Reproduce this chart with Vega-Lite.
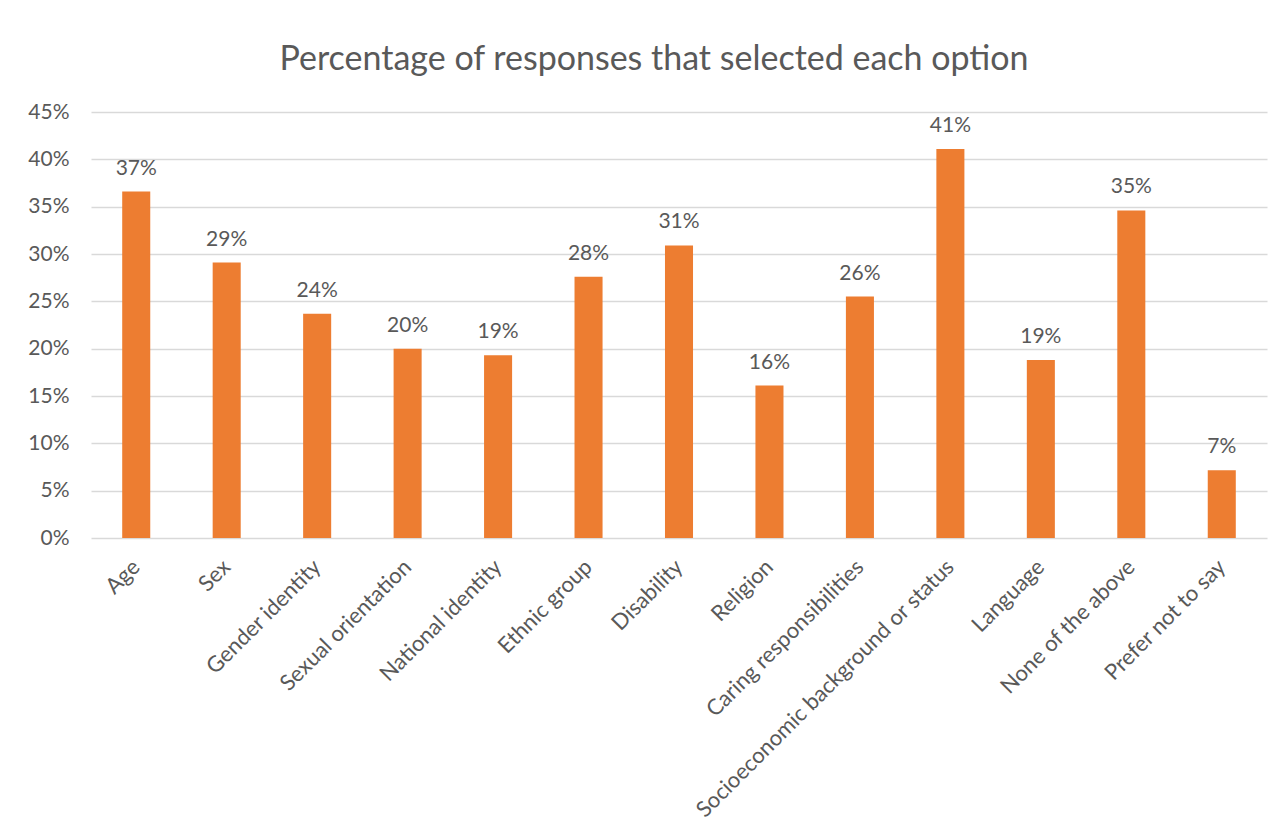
{
  "$schema": "https://vega.github.io/schema/vega-lite/v6.json",
  "width": 1176,
  "height": 426,
  "autosize": {"type": "none"},
  "padding": {"left": 91, "top": 112, "right": 17, "bottom": 298},
  "background": "white",
  "title": {
    "text": "Percentage of responses that selected each option",
    "font": "Lato",
    "fontSize": 34,
    "fontWeight": "normal",
    "color": "#595959",
    "anchor": "middle",
    "baseline": "alphabetic",
    "offset": -3,
    "dx": -25
  },
  "config": {
    "view": {"stroke": null},
    "font": "Lato"
  },
  "data": {
    "values": [
      {"option": "Age", "pct": 0.366},
      {"option": "Sex", "pct": 0.291},
      {"option": "Gender identity", "pct": 0.237},
      {"option": "Sexual orientation", "pct": 0.2},
      {"option": "National identity", "pct": 0.193},
      {"option": "Ethnic group", "pct": 0.276},
      {"option": "Disability", "pct": 0.309},
      {"option": "Religion", "pct": 0.161},
      {"option": "Caring responsibilities", "pct": 0.255},
      {"option": "Socioeconomic background or status", "pct": 0.411},
      {"option": "Language", "pct": 0.188},
      {"option": "None of the above", "pct": 0.346},
      {"option": "Prefer not to say", "pct": 0.0715}
    ]
  },
  "encoding": {
    "x": {
      "field": "option",
      "type": "nominal",
      "sort": null,
      "scale": {"paddingInner": 0.69, "paddingOuter": 0.345},
      "axis": {
        "title": null,
        "labelAngle": -45,
        "labelAlign": "right",
        "labelBaseline": "middle",
        "labelFont": "Lato",
        "labelFontSize": 22,
        "labelColor": "#595959",
        "labelPadding": 25,
        "ticks": false,
        "domain": false,
        "labelLimit": 500
      }
    },
    "y": {
      "field": "pct",
      "type": "quantitative",
      "scale": {"domain": [0, 0.45], "nice": false},
      "axis": {
        "title": null,
        "format": ".0%",
        "values": [0, 0.05, 0.1, 0.15, 0.2, 0.25, 0.3, 0.35, 0.4, 0.45],
        "labelFont": "Lato",
        "labelFontSize": 21,
        "labelColor": "#595959",
        "labelPadding": 22,
        "ticks": false,
        "domain": false,
        "gridColor": "#d9d9d9",
        "gridWidth": 1.5
      }
    }
  },
  "layer": [
    {"mark": {"type": "bar", "color": "#ED7D31"}},
    {
      "mark": {
        "type": "text",
        "baseline": "alphabetic",
        "dy": -17,
        "font": "Lato",
        "fontSize": 21,
        "color": "#595959"
      },
      "encoding": {
        "text": {"field": "pct", "type": "quantitative", "format": ".0%"}
      }
    }
  ]
}
